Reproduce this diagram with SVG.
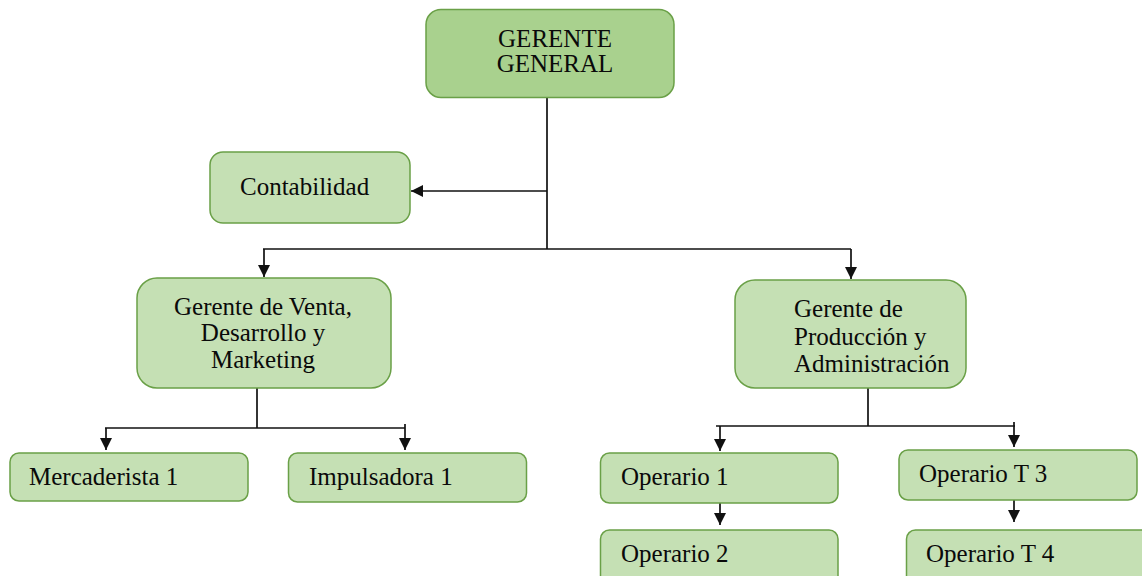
<svg xmlns="http://www.w3.org/2000/svg" width="1142" height="576" viewBox="0 0 1142 576">
  <style>
    .box { fill: #c5e0b4; stroke: #6aa047; stroke-width: 1.5; }
    .top { fill: #a9d18e; }
    .t { font-family: 'Liberation Serif', 'DejaVu Serif', 'Noto Serif', serif; font-size: 25px; fill: #0a0a0a; }
    .c { text-anchor: middle; }
    .ln { stroke: #111; stroke-width: 1.7; fill: none; }
  </style>
  <defs>
    <marker id="ah" viewBox="0 0 10 10" refX="10" refY="5" markerUnits="userSpaceOnUse" markerWidth="14" markerHeight="12" orient="auto">
      <path d="M0,0 L10,5 L0,10 z" fill="#111"/>
    </marker>
  </defs>
  <rect width="1142" height="576" fill="#ffffff"/>

  <g id="connectors">
    <path class="ln" d="M547,98 V249"/>
    <path class="ln" d="M547,191 H411" marker-end="url(#ah)"/>
    <path class="ln" d="M263,249 H851"/>
    <path class="ln" d="M264,249 V277" marker-end="url(#ah)"/>
    <path class="ln" d="M851,249 V279" marker-end="url(#ah)"/>
    <path class="ln" d="M257,388 V428"/>
    <path class="ln" d="M105,428 H405"/>
    <path class="ln" d="M106,428 V450" marker-end="url(#ah)"/>
    <path class="ln" d="M405,424 V450" marker-end="url(#ah)"/>
    <path class="ln" d="M868,388 V426"/>
    <path class="ln" d="M716,426 H1015"/>
    <path class="ln" d="M720,426 V451" marker-end="url(#ah)"/>
    <path class="ln" d="M1014,422 V447" marker-end="url(#ah)"/>
    <path class="ln" d="M720,503 V525" marker-end="url(#ah)"/>
    <path class="ln" d="M1014,500 V522" marker-end="url(#ah)"/>
  </g>

  <g id="gerente-general">
    <rect class="box top" x="426" y="9.5" width="248" height="88" rx="15"/>
    <text class="t c" x="555" y="47">GERENTE</text>
    <text class="t c" x="555" y="72">GENERAL</text>
  </g>

  <g id="contabilidad">
    <rect class="box" x="210" y="152" width="200" height="71" rx="13"/>
    <text class="t" x="240" y="195">Contabilidad</text>
  </g>

  <g id="gerente-venta">
    <rect class="box" x="137" y="278" width="254" height="110" rx="20"/>
    <text class="t c" x="263" y="315">Gerente de Venta,</text>
    <text class="t c" x="263" y="341">Desarrollo y</text>
    <text class="t c" x="263" y="368">Marketing</text>
  </g>

  <g id="gerente-produccion">
    <rect class="box" x="735" y="280" width="231" height="108" rx="20"/>
    <text class="t" x="794" y="317">Gerente de</text>
    <text class="t" x="794" y="345">Producción y</text>
    <text class="t" x="794" y="372">Administración</text>
  </g>

  <g id="mercaderista-1">
    <rect class="box" x="10" y="453" width="238" height="48" rx="9"/>
    <text class="t" x="29" y="485">Mercaderista 1</text>
  </g>

  <g id="impulsadora-1">
    <rect class="box" x="288.5" y="453" width="238" height="49" rx="9"/>
    <text class="t" x="309" y="485">Impulsadora 1</text>
  </g>

  <g id="operario-1">
    <rect class="box" x="600.5" y="453" width="237.5" height="50" rx="9"/>
    <text class="t" x="621" y="485">Operario 1</text>
  </g>

  <g id="operario-2">
    <rect class="box" x="600.5" y="530" width="237.5" height="60" rx="9"/>
    <text class="t" x="621" y="562">Operario 2</text>
  </g>

  <g id="operario-t3">
    <rect class="box" x="899" y="450" width="238" height="50" rx="9"/>
    <text class="t" x="919" y="482">Operario T 3</text>
  </g>

  <g id="operario-t4">
    <rect class="box" x="906.5" y="530" width="250" height="60" rx="9"/>
    <text class="t" x="926" y="562">Operario T 4</text>
  </g>
</svg>
